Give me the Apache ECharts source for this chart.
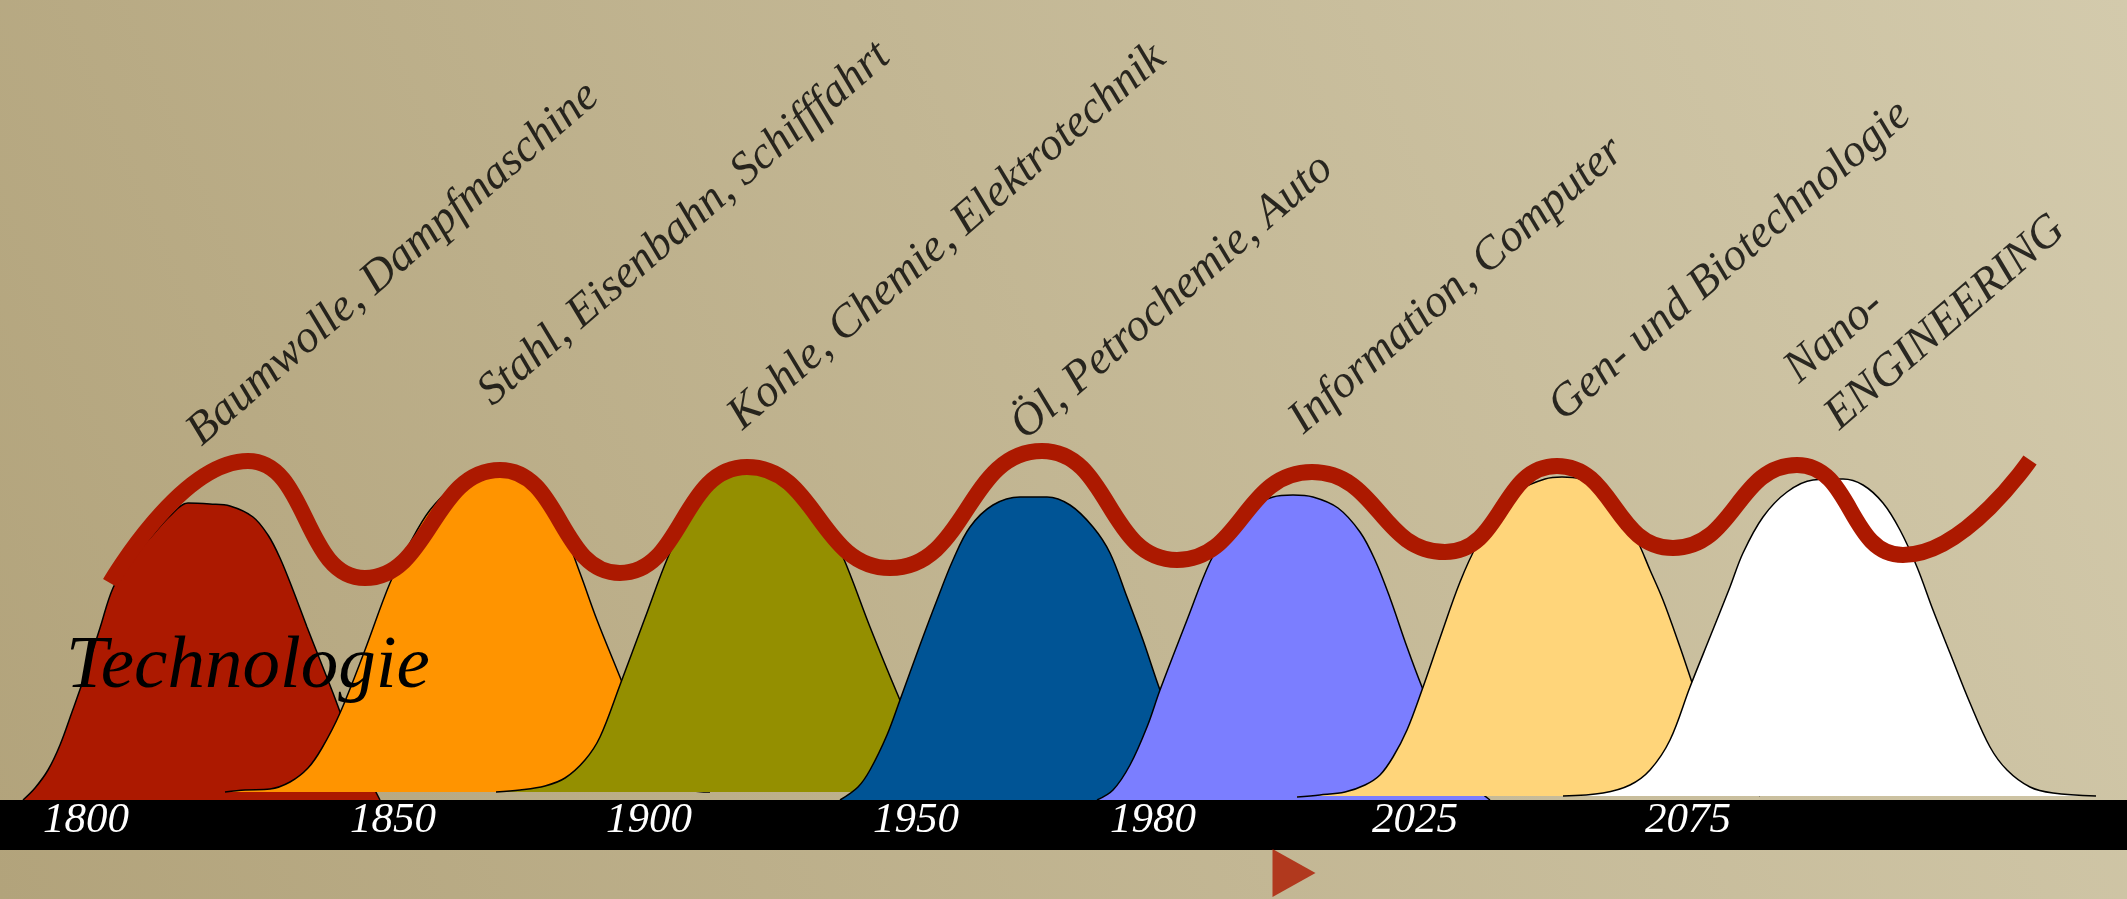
<!DOCTYPE html>
<html>
<head>
<meta charset="utf-8">
<script src="https://cdn.jsdelivr.net/npm/echarts@6/dist/echarts.min.js"></script>
<style>
html,body{margin:0;padding:0;width:2127px;height:899px;overflow:hidden;}
#chart{width:2127px;height:899px;}
</style>
</head>
<body>
<div id="chart"></div>
<script>
// ---------- DATA ----------
const tickPositions = [86, 393, 649, 916, 1153, 1415, 1688];
const tickLabels = ['1800', '1850', '1900', '1950', '1980', '2025', '2075'];

const techNames = [
  'Baumwolle, Dampfmaschine',
  'Stahl, Eisenbahn, Schifffahrt',
  'Kohle, Chemie, Elektrotechnik',
  'Öl, Petrochemie, Auto',
  'Information, Computer',
  'Gen- und Biotechnologie',
  'Nano-\nENGINEERING'
];
const labelAnchorX = [214, 505, 755, 1038, 1316, 1576, 1852];
const labelAnchorY = [339, 379, 355, 345, 351, 364, 355];

const curveBaselines = [0, 8, 8, 0, 0, 4, 4];
const curve1 = [[23,0],[35,12],[48,30],[60,55],[72,88],[85,125],[100,172],[113,212],[130,240],[150,262],[170,284],[188,297],[210,296],[230,294],[253,283],[268,265],[280,242],[293,210],[307,173],[320,140],[333,107],[345,75],[360,40],[380,0]];
const curve2 = [[225,8],[245,10],[270,11],[290,18],[308,32],[322,52],[340,87],[365,150],[390,217],[410,257],[430,290],[455,315],[475,326],[489,329],[505,327],[525,316],[547,293],[565,265],[580,227],[597,180],[620,123],[645,60],[665,25],[690,10],[710,8]];
const curve3 = [[496,8],[520,10],[545,14],[565,22],[585,40],[600,63],[620,115],[645,182],[668,243],[690,288],[712,314],[735,325],[755,327],[775,325],[798,313],[820,288],[843,243],[870,173],[897,107],[920,55],[940,25],[965,10],[985,8]];
const curve4 = [[840,0],[858,13],[870,30],[887,65],[900,100],[920,155],[937,200],[953,240],[970,273],[993,295],[1020,303],[1047,303],[1070,295],[1093,273],[1110,247],[1127,203],[1143,160],[1160,110],[1177,67],[1192,30],[1207,12],[1225,0]];
const curve5 = [[1097,0],[1113,10],[1130,35],[1147,73],[1160,110],[1187,180],[1210,238],[1230,272],[1250,292],[1273,303],[1293,305],[1313,303],[1338,292],[1360,268],[1375,240],[1390,202],[1407,153],[1422,113],[1440,70],[1458,35],[1475,13],[1490,0]];
const curve6 = [[1297,3],[1320,5],[1345,8],[1365,15],[1380,25],[1393,43],[1407,70],[1422,110],[1440,162],[1460,218],[1478,257],[1498,287],[1520,310],[1545,321],[1562,323],[1580,321],[1603,308],[1622,285],[1637,260],[1650,230],[1663,200],[1680,153],[1700,95],[1720,48],[1740,20],[1760,4]];
const curve7 = [[1563,4],[1603,7],[1630,15],[1650,30],[1670,60],[1690,113],[1710,163],[1730,213],[1743,247],[1763,283],[1787,308],[1813,320],[1843,321],[1863,315],[1883,297],[1900,270],[1917,233],[1933,190],[1950,147],[1970,97],[1990,53],[2007,30],[2030,13],[2053,7],[2096,4]];

// wave: start, then alternating peaks and troughs
const wave = [[110,217],[248,339],[365,222],[500,330],[620,227],[747,333],[890,232],[1042,349],[1177,240],[1312,328],[1445,248],[1557,334],[1673,252],[1797,335],[1903,245],[2030,340]];

const nowMarker = [[1294, -73]];

// ---------- STYLE ----------
const curveColors = ['#AC1900', '#FF9400', '#948F00', '#005495', '#7B7EFF', '#FFD57A', '#FFFFFF'];
const waveColor = '#AC1900';
const serif = 'Liberation Serif';

const curves = [curve1, curve2, curve3, curve4, curve5, curve6, curve7];

const series = curves.map((c, i) => ({
  type: 'line',
  data: c,
  smooth: 0.35,
  symbol: 'none',
  z: 2 + i,
  lineStyle: { color: '#000', width: 1.5 },
  areaStyle: { color: curveColors[i], opacity: 1, origin: curveBaselines[i] },
  silent: true
}));

series.push({
  type: 'line',
  data: wave,
  smooth: 0.5,
  symbol: 'none',
  z: 20,
  lineStyle: { color: waveColor, width: 16, cap: 'butt' },
  silent: true
});

series.push({
  type: 'scatter',
  z: 30,
  clip: false,
  symbolSize: 1,
  itemStyle: { color: 'rgba(0,0,0,0)' },
  data: techNames.map((n, i) => ({ name: n, value: [labelAnchorX[i], labelAnchorY[i]] })),
  label: {
    show: true,
    position: 'inside',
    align: 'left',
    verticalAlign: 'bottom',
    rotate: 41,
    formatter: p => p.name,
    color: '#000',
    fontFamily: serif,
    fontStyle: 'italic',
    fontSize: 46,
    lineHeight: 62
  },
  silent: true
});

series.push({
  type: 'scatter',
  z: 30,
  clip: false,
  symbol: 'triangle',
  symbolSize: [48, 43],
  symbolRotate: -90,
  itemStyle: { color: waveColor },
  data: nowMarker,
  silent: true
});

const chart = echarts.init(document.getElementById('chart'), null, { renderer: 'canvas' });
chart.setOption({
  animation: false,
  backgroundColor: {
    type: 'linear', x: 1, y: 0, x2: 0, y2: 1,
    colorStops: [{ offset: 0, color: '#D3CAAC' }, { offset: 1, color: '#B2A37B' }]
  },
  title: {
    text: 'Technologie',
    left: 66,
    top: 630,
    padding: 0,
    textStyle: { fontFamily: serif, fontStyle: 'italic', fontWeight: 'normal', fontSize: 75, lineHeight: 75, color: '#000' },
    z: 40
  },
  grid: { left: 0, right: 0, top: 0, bottom: 99, containLabel: false },
  xAxis: {
    type: 'value',
    min: 0,
    max: 2127,
    offset: 25,
    splitLine: { show: false },
    axisTick: { show: false },
    axisLine: { show: true, onZero: false, lineStyle: { color: '#000', width: 50 } },
    axisLabel: {
      customValues: tickPositions,
      formatter: v => tickLabels[tickPositions.indexOf(v)],
      color: '#fff',
      fontFamily: serif,
      fontStyle: 'italic',
      fontSize: 43,
      lineHeight: 43,
      margin: -26
    }
  },
  yAxis: { type: 'value', min: 0, max: 800, show: false },
  series: series
});
</script>
</body>
</html>
